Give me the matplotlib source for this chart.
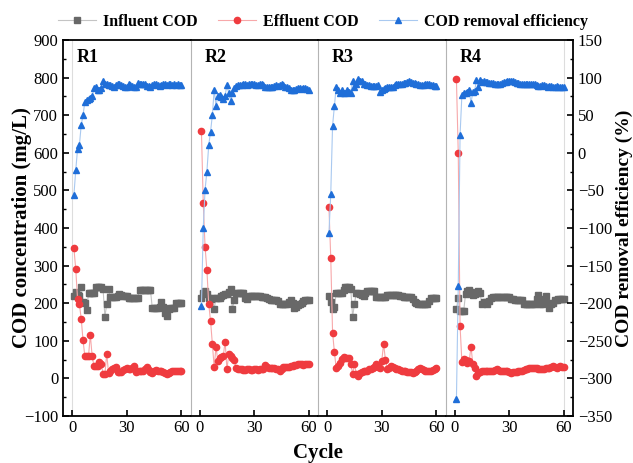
import matplotlib
matplotlib.use('Agg')
import matplotlib.pyplot as plt
from matplotlib.lines import Line2D
from matplotlib.ticker import MultipleLocator

plt.rcParams['font.family'] = ['Liberation Serif', 'DejaVu Serif']

cycles = list(range(1, 61))
panel_names = ['R1', 'R2', 'R3', 'R4']
x_ticks = [0, 30, 60]

inf1 = [220, 231, 222, 220, 244, 204, 200, 183, 226, 226, 226, 226, 243, 243, 243, 243, 237, 164, 197, 237,
        217, 217, 217, 217, 220, 224, 222, 220, 220, 220, 215, 215, 215, 215, 215, 215, 236, 236, 236, 236,
        236, 236, 236, 188, 188, 188, 188, 190, 202, 190, 175, 166, 185, 188, 188, 188, 200, 200, 200, 200]
ef1 = [346, 290, 211, 197, 159, 101, 59, 59, 59, 116, 59, 33, 33, 33, 44, 39, 12, 11, 66, 15,
       20, 24, 27, 30, 18, 18, 18, 22, 25, 28, 24, 26, 28, 33, 18, 19, 20, 21, 21, 24,
       30, 22, 18, 15, 21, 22, 20, 21, 21, 18, 15, 12, 15, 18, 20, 21, 20, 20, 21, 20]
eff1 = [-56, -23, 5, 10, 37, 50, 68, 70, 72, 73, 75, 86, 88, 84, 84, 86, 95, 92, 91, 90,
        90, 89, 88, 90, 92, 91, 90, 89, 88, 88, 91, 90, 89, 87, 87, 93, 92, 91, 92, 91,
        89, 89, 88, 90, 92, 91, 90, 89, 90, 91, 92, 90, 91, 92, 90, 91, 90, 91, 90, 90]

inf2 = [215, 228, 233, 225, 215, 212, 214, 184, 215, 215, 215, 220, 222, 224, 224, 230, 237, 184, 208, 226,
        226, 226, 226, 226, 215, 211, 218, 220, 220, 220, 220, 220, 220, 217, 217, 217, 215, 212, 208, 208,
        208, 208, 205, 199, 199, 199, 199, 199, 203, 208, 200, 186, 190, 195, 197, 200, 205, 208, 208, 208]
ef2 = [659, 466, 350, 288, 198, 153, 92, 30, 84, 46, 53, 57, 60, 98, 24, 64, 60, 55, 48, 28,
       26, 24, 24, 23, 23, 24, 24, 23, 23, 24, 24, 23, 24, 24, 24, 36, 30, 28, 28, 28,
       27, 26, 24, 21, 26, 30, 30, 31, 31, 33, 34, 36, 36, 37, 38, 37, 36, 38, 39, 39]
eff2 = [-204, -100, -49, -25, 10, 28, 50, 84, 62, 75, 77, 74, 71, 76, 90, 79, 69, 80, 86, 89,
        90, 90, 90, 91, 91, 90, 91, 91, 91, 91, 90, 90, 91, 91, 90, 87, 87, 88, 88, 88,
        89, 90, 89, 90, 92, 90, 88, 87, 86, 84, 83, 84, 85, 86, 86, 85, 86, 86, 85, 84]

inf3 = [220, 204, 184, 190, 226, 226, 226, 226, 235, 243, 243, 243, 237, 164, 197, 228, 226, 224, 222, 220,
        228, 233, 233, 233, 233, 233, 217, 217, 217, 217, 217, 217, 222, 222, 222, 222, 222, 222, 222, 220,
        218, 217, 217, 217, 217, 217, 210, 204, 200, 197, 197, 197, 197, 197, 197, 205, 215, 215, 215, 215]
ef3 = [457, 321, 122, 70, 27, 33, 40, 51, 57, 53, 53, 53, 39, 12, 39, 11, 6, 15, 18, 20,
       21, 21, 24, 24, 28, 30, 37, 30, 27, 46, 92, 50, 24, 28, 33, 30, 28, 26, 24, 22,
       21, 20, 19, 18, 17, 16, 15, 18, 20, 24, 27, 24, 22, 21, 20, 20, 21, 22, 25, 27]
eff3 = [-107, -55, 36, 62, 88, 84, 80, 83, 80, 79, 84, 81, 79, 95, 88, 92, 98, 96, 95, 92,
        91, 90, 90, 89, 89, 89, 89, 90, 81, 84, 85, 86, 87, 88, 88, 88, 90, 91, 91, 92,
        92, 93, 93, 94, 95, 94, 93, 93, 92, 91, 90, 90, 90, 91, 91, 91, 90, 90, 89, 89]

inf4 = [184, 215, 180, 180, 180, 224, 233, 235, 230, 222, 224, 228, 233, 226, 197, 204, 204, 199, 205, 215,
        217, 217, 217, 217, 217, 217, 217, 217, 217, 217, 211, 211, 208, 208, 208, 208, 208, 197, 197, 197,
        197, 197, 197, 197, 210, 222, 197, 197, 210, 220, 200, 186, 197, 200, 208, 208, 211, 211, 211, 211]
ef4 = [795, 600, 139, 44, 51, 48, 42, 46, 84, 39, 28, 6, 15, 18, 20, 21, 21, 20, 20, 21,
       21, 23, 24, 22, 21, 21, 21, 20, 20, 18, 15, 16, 18, 18, 19, 20, 20, 22, 24, 25,
       27, 27, 27, 27, 27, 26, 25, 24, 25, 27, 27, 28, 30, 33, 31, 28, 30, 33, 31, 30]
eff4 = [-328, -177, 24, 77, 79, 80, 81, 83, 66, 81, 82, 97, 87, 97, 94, 95, 94, 94, 93, 93,
        93, 92, 92, 92, 92, 93, 94, 94, 95, 95, 96, 95, 94, 93, 93, 92, 92, 92, 92, 92,
        91, 91, 92, 91, 90, 89, 89, 90, 90, 89, 88, 89, 89, 88, 88, 89, 87, 87, 88, 87]

influent = [inf1, inf2, inf3, inf4]
effluent = [ef1, ef2, ef3, ef4]
efficiency = [eff1, eff2, eff3, eff4]

gray_m, gray_l = '#686868', '#c4c4c4'
red_m, red_l = '#ef3b3f', '#f7a8aa'
blue_m, blue_l = '#1f6ed8', '#a9c9f0'
sep_col = '#b4b4b4'

fig = plt.figure(figsize=(6.33, 4.63), dpi=100)
left, right, bottom, top = 63 / 633, 573 / 633, 1 - 416 / 463, 1 - 40 / 463
w = (right - left) / 4

for i in range(4):
    ax = fig.add_axes([left + i * w, bottom, w, top - bottom])
    ax2 = ax.twinx()
    ax.plot(cycles, influent[i], color=gray_l, lw=0.8, marker='s', ms=4.3,
            mfc=gray_m, mec=gray_m, zorder=3)
    ax.plot(cycles, effluent[i], color=red_l, lw=0.8, marker='o', ms=4.5,
            mfc=red_m, mec=red_m, zorder=4)
    ax2.plot(cycles, efficiency[i], color=blue_l, lw=0.8, marker='^', ms=5,
             mfc=blue_m, mec=blue_m, zorder=5)
    ax.set_xlim(-5, 65)
    ax.set_ylim(-100, 900)
    ax2.set_ylim(-350, 150)
    ax.set_xticks(x_ticks)
    ax.set_xticklabels([str(t) for t in x_ticks], fontsize=12)
    ax.tick_params(axis='x', direction='in', length=4, width=1.2, pad=3, top=False)

    for sp in ax2.spines.values():
        sp.set_visible(False)
    ax.spines['top'].set_linewidth(1.3)
    ax.spines['bottom'].set_linewidth(1.3)
    if i == 0:
        ax.spines['left'].set_linewidth(1.3)
        ax.yaxis.set_major_locator(MultipleLocator(100))
        ax.yaxis.set_minor_locator(MultipleLocator(50))
        ax.tick_params(axis='y', which='major', direction='in', length=4, width=1.2, labelsize=12)
        ax.tick_params(axis='y', which='minor', direction='in', length=2.5, width=1.0)
        ax.axvline(0, color='#dddddd', lw=0.8, zorder=1)
    else:
        ax.spines['left'].set_color(sep_col)
        ax.spines['left'].set_linewidth(0.8)
        ax.tick_params(axis='y', which='both', left=False, labelleft=False)
    ax.spines['right'].set_visible(False)
    ax.tick_params(axis='y', which='both', right=False)
    if i == 3:
        ax2.spines['right'].set_visible(True)
        ax2.spines['right'].set_linewidth(1.3)
        ax2.yaxis.set_major_locator(MultipleLocator(50))
        ax2.yaxis.set_minor_locator(MultipleLocator(25))
        ax2.tick_params(axis='y', which='major', direction='in', length=4, width=1.2, labelsize=12)
        ax2.tick_params(axis='y', which='minor', direction='in', length=2.5, width=1.0)
        ax.axvline(60, color='#dddddd', lw=0.8, zorder=1)
    else:
        ax2.tick_params(axis='y', which='both', right=False, labelright=False)
    ax2.tick_params(axis='y', which='both', left=False, labelleft=False)
    ax.text(0.11, 0.975, panel_names[i], transform=ax.transAxes, fontsize=13,
            fontweight='bold', va='top', ha='left')

fig.text(0.034, (top + bottom) / 2, 'COD concentration (mg/L)', rotation=90,
         fontsize=15, fontweight='bold', ha='center', va='center')
fig.text(0.986, (top + bottom) / 2, 'COD removal efficiency (%)', rotation=90,
         fontsize=14, fontweight='bold', ha='center', va='center')
fig.text((left + right) / 2, 0.022, 'Cycle', fontsize=15, fontweight='bold',
         ha='center', va='center')

handles = [
    Line2D([], [], color=gray_l, lw=0.8, marker='s', ms=4.3, mfc=gray_m, mec=gray_m),
    Line2D([], [], color=red_l, lw=0.8, marker='o', ms=4.5, mfc=red_m, mec=red_m),
    Line2D([], [], color=blue_l, lw=0.8, marker='^', ms=5, mfc=blue_m, mec=blue_m),
]
labels = ['Influent COD', 'Effluent COD', 'COD removal efficiency']
fig.legend(handles, labels, loc='center', bbox_to_anchor=(0.51, 1 - 22 / 463), ncol=3,
           frameon=False, prop={'weight': 'bold', 'size': 11.5}, handlelength=2.4,
           columnspacing=1.3, handletextpad=0.4)

fig.savefig('out.png', dpi=100)
